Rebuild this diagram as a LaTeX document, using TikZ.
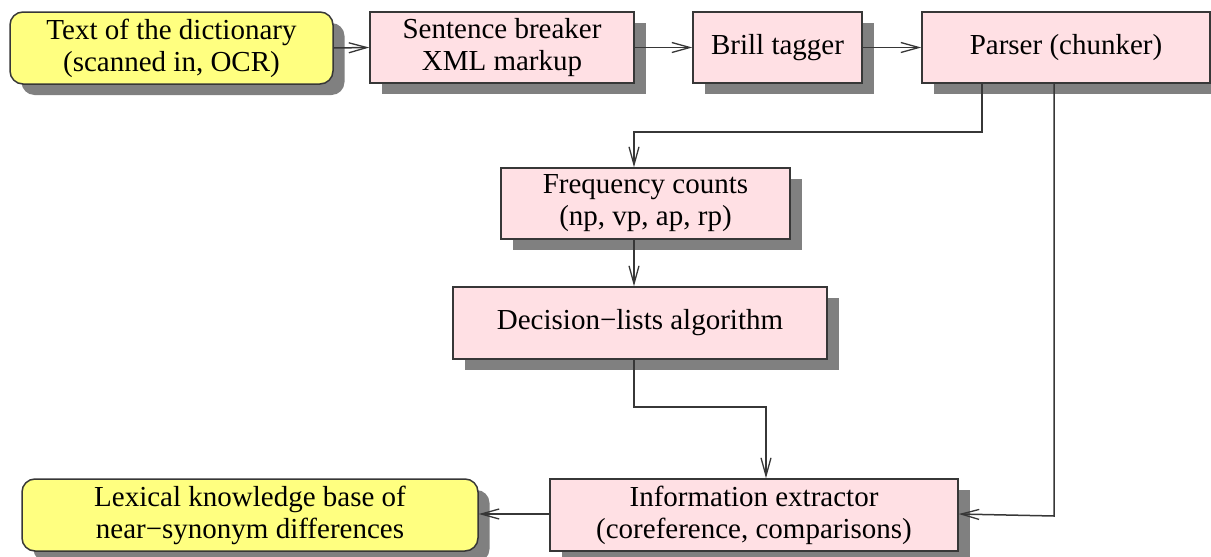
\documentclass[tikz,border=0pt]{standalone}
\usepackage{fontspec}
\setmainfont{Liberation Serif}
\usetikzlibrary{arrows.meta,shadows}
\definecolor{boxpink}{RGB}{255,224,228}
\definecolor{boxyellow}{RGB}{255,255,128}
\definecolor{edgegray}{RGB}{55,55,55}
\definecolor{shadowgray}{RGB}{128,128,128}
\tikzset{
  base/.style={draw=edgegray, line width=1.5pt, align=center, inner sep=0pt,
    font=\fontsize{29}{32}\selectfont, text=black,
    drop shadow={shadow xshift=11.5pt, shadow yshift=-11pt, opacity=1, fill=shadowgray, draw=none}},
  pinkbox/.style={base, fill=boxpink},
  yellowbox/.style={base, fill=boxyellow, rounded corners=13pt},
  arr/.style={draw=edgegray, line width=1.5pt, -{Straight Barb[length=18pt,width=10pt,line width=1.3pt]}}
}
\begin{document}
\begin{tikzpicture}[x=1pt,y=-1pt]
\useasboundingbox (0,0) rectangle (1211,557);
\clip (0,0) rectangle (1211,557);
\node[yellowbox, minimum width=323pt, minimum height=72pt] (text) at (171.5,48) {Text of the dictionary\\(scanned in, OCR)};
\node[pinkbox, minimum width=264pt, minimum height=71pt] (sent) at (502,47.5) {Sentence breaker\\XML markup};
\node[pinkbox, minimum width=169pt, minimum height=71pt] (brill) at (777.5,47.5) {Brill tagger};
\node[pinkbox, minimum width=288pt, minimum height=71pt] (parser) at (1066,47.5) {Parser (chunker)};
\node[pinkbox, minimum width=289pt, minimum height=71pt] (freq) at (645.5,203.5) {Frequency counts\\(np, vp, ap, rp)};
\node[pinkbox, minimum width=374pt, minimum height=72pt] (dec) at (640,323) {Decision−lists algorithm};
\node[pinkbox, minimum width=408pt, minimum height=72pt] (info) at (754,515) {Information extractor\\(coreference, comparisons)};
\node[yellowbox, minimum width=456pt, minimum height=72pt] (lex) at (250,515) {Lexical knowledge base of\\near−synonym differences};
\coordinate (c1) at (634,132);
\coordinate (c2) at (634,407);
\coordinate (c3) at (766,407);
\coordinate (c4) at (1054,516);
\draw[arr] (text.east) -- (sent.west);
\draw[arr] (sent.east) -- (brill.west);
\draw[arr] (brill.east) -- (parser.west);
\draw[arr] ([xshift=-84pt]parser.south) |- (c1) -- ([xshift=-11.5pt]freq.north);
\draw[arr] ([xshift=-11.5pt]freq.south) -- ([xshift=-6pt]dec.north);
\draw[arr] ([xshift=-6pt]dec.south) -- (c2) -- (c3) -- ([xshift=12pt]info.north);
\draw[arr] ([xshift=-12pt]parser.south) -- (c4) -- ([yshift=1pt]info.east);
\draw[arr] ([yshift=1pt]info.west) -- ([yshift=1pt]lex.east);
\end{tikzpicture}
\end{document}
